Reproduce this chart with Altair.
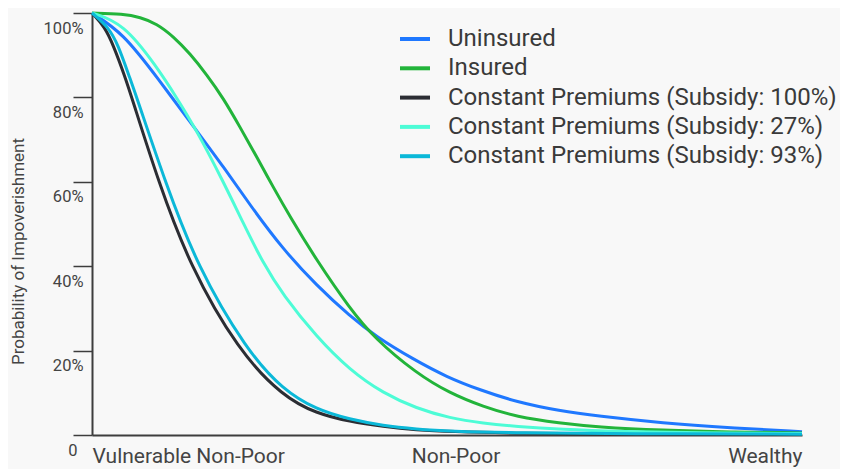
import altair as alt
import pandas as pd

# Series names (legend order) and colours
series = [
    "Uninsured",
    "Insured",
    "Constant Premiums (Subsidy: 100%)",
    "Constant Premiums (Subsidy: 27%)",
    "Constant Premiums (Subsidy: 93%)",
]
colors = ["#1f78ff", "#22b43a", "#2b2d33", "#4dfcd6", "#0bb8d8"]

# Position along the wealth axis (0 = vulnerable non-poor, 1 = wealthy)
uninsured_x = [0, 0.044, 0.091, 0.15, 0.185, 0.2225, 0.269, 0.316, 0.363, 0.401, 0.452, 0.5, 0.546, 0.598, 0.659, 0.711, 0.804, 0.899, 1.0]
uninsured_y = [1.0, 0.952, 0.849, 0.715, 0.636, 0.545, 0.440, 0.355, 0.282, 0.232, 0.180, 0.137, 0.107, 0.078, 0.057, 0.045, 0.028, 0.017, 0.008]

insured_x = [0, 0.044, 0.068, 0.091, 0.115, 0.138, 0.162, 0.185, 0.208, 0.232, 0.255, 0.279, 0.316, 0.363, 0.398, 0.457, 0.504, 0.551, 0.598, 0.659, 0.711, 0.804, 0.899, 1.0]
insured_y = [1.0, 0.998, 0.990, 0.975, 0.944, 0.904, 0.853, 0.798, 0.731, 0.659, 0.588, 0.517, 0.415, 0.300, 0.229, 0.146, 0.099, 0.067, 0.043, 0.028, 0.019, 0.011, 0.007, 0.005]

sub100_x = [0, 0.018, 0.030, 0.0465, 0.056, 0.0935, 0.138, 0.206, 0.269, 0.316, 0.363, 0.41, 0.457, 0.504, 0.6, 0.75, 1.0]
sub100_y = [1.0, 0.967, 0.924, 0.849, 0.800, 0.600, 0.400, 0.200, 0.091, 0.051, 0.0316, 0.020, 0.012, 0.008, 0.004, 0.002, 0.001]

sub27_x = [0, 0.044, 0.091, 0.119, 0.147, 0.185, 0.213, 0.241, 0.269, 0.316, 0.363, 0.41, 0.457, 0.504, 0.551, 0.598, 0.659, 0.75, 0.85, 1.0]
sub27_y = [1.0, 0.976, 0.873, 0.800, 0.723, 0.600, 0.502, 0.407, 0.332, 0.233, 0.154, 0.099, 0.063, 0.040, 0.028, 0.020, 0.013, 0.008, 0.005, 0.0035]

sub93_x = [0, 0.023, 0.037, 0.0526, 0.063, 0.103, 0.148, 0.218, 0.269, 0.316, 0.363, 0.41, 0.457, 0.504, 0.6, 0.75, 1.0]
sub93_y = [1.0, 0.967, 0.924, 0.849, 0.800, 0.600, 0.400, 0.200, 0.107, 0.060, 0.037, 0.022, 0.014, 0.009, 0.005, 0.003, 0.002]

xs = [uninsured_x, insured_x, sub100_x, sub27_x, sub93_x]
ys = [uninsured_y, insured_y, sub100_y, sub27_y, sub93_y]

# X-axis category labels
x_tick_values = [0, 0.512, 1]
x_tick_labels = ["Vulnerable Non-Poor", "Non-Poor", "Wealthy"]
y_tick_values = [0, 0.2, 0.4, 0.6, 0.8, 1.0]

rows = []
for name, xv, yv in zip(series, xs, ys):
    for i, (a, b) in enumerate(zip(xv, yv)):
        rows.append({"series": name, "t": a, "v": b, "order": i})
df = pd.DataFrame(rows)

label_expr = (
    f"datum.value == 0 ? '{x_tick_labels[0]}' : "
    f"datum.value == 1 ? '{x_tick_labels[2]}' : '{x_tick_labels[1]}'"
)

FONT = "Roboto"
AXIS_COL = "#3d3d3d"
TEXT_COL = "#444444"

chart = (
    alt.Chart(df)
    .mark_line(strokeWidth=3, interpolate="basis")
    .encode(
        x=alt.X(
            "t:Q",
            scale=alt.Scale(domain=[0, 1], nice=False),
            axis=alt.Axis(
                values=x_tick_values,
                labelExpr=label_expr,
                ticks=False,
                grid=False,
                domainColor=AXIS_COL,
                domainWidth=2,
                labelFlush=True,
                labelFont=FONT,
                labelFontSize=21,
                labelColor=TEXT_COL,
                labelBaseline="alphabetic",
                labelPadding=27,
                labelLimit=400,
                title=None,
            ),
        ),
        y=alt.Y(
            "v:Q",
            scale=alt.Scale(domain=[0, 1], nice=False),
            axis=alt.Axis(
                values=y_tick_values,
                labelExpr="datum.value == 0 ? '0' : format(datum.value, '.0%')",
                grid=False,
                tickSize=19,
                tickWidth=1.5,
                tickColor=AXIS_COL,
                domainColor=AXIS_COL,
                domainWidth=2,
                labelFont=FONT,
                labelFontSize=16.5,
                labelColor=TEXT_COL,
                labelOffset=15,
                labelPadding={"condition": {"test": "datum.value == 0", "value": -4}, "value": -10},
                title="Probability of Impoverishment",
                titleFont=FONT,
                titleFontSize=17,
                titleFontWeight="normal",
                titleColor=TEXT_COL,
                titleX=-74,
                titleY=238,
                titleBaseline="middle",
                titleAngle=270,
            ),
        ),
        color=alt.Color(
            "series:N",
            scale=alt.Scale(domain=series, range=colors),
            sort=series,
            legend=alt.Legend(
                title=None,
                orient="none",
                legendX=306,
                legendY=9,
                symbolType="stroke",
                symbolStrokeWidth=4,
                symbolSize=900,
                labelFont=FONT,
                labelFontSize=24,
                labelColor="#3a3a3a",
                labelOffset=16,
                labelLimit=600,
                rowPadding=0.3,
                padding=0,
            ),
        ),
        order=alt.Order("order:Q"),
    )
    .properties(
        width=710,
        height=422,
        autosize="none",
        padding={"left": 84, "top": 5, "right": 38, "bottom": 34},
        background="#f8f8f8",
    )
    .configure_view(stroke=None)
)

chart.save("out.html", embed_options={"renderer": "svg", "actions": False})
